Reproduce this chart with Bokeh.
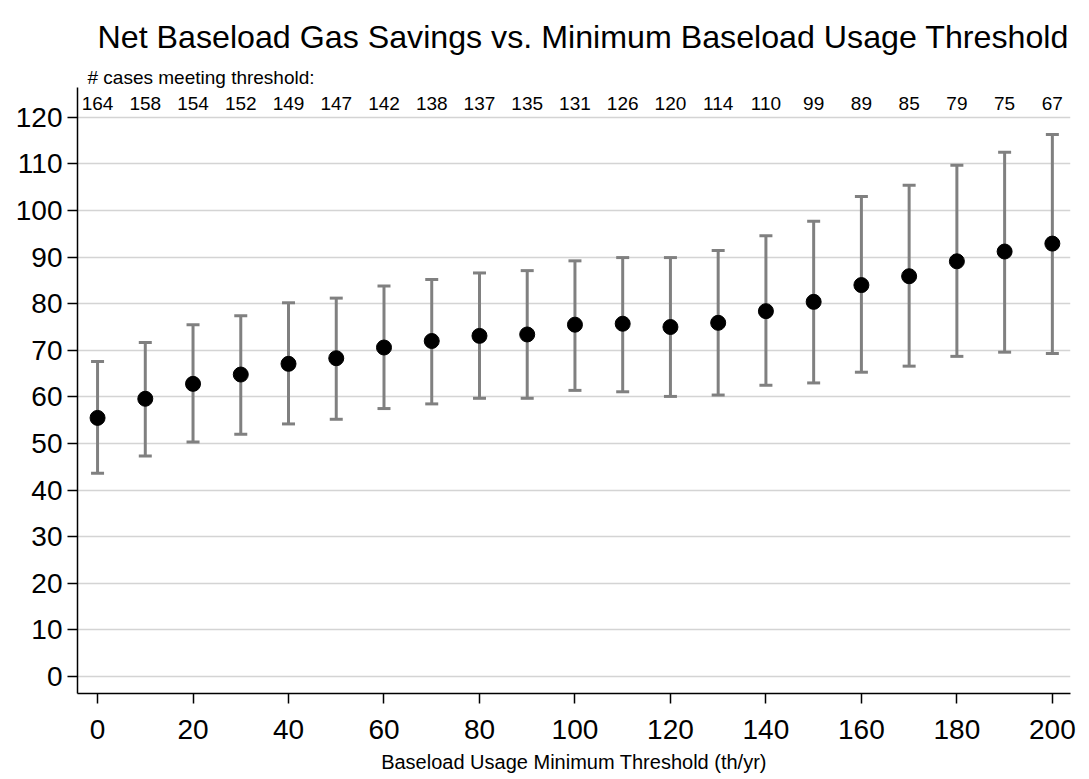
from bokeh.plotting import figure
from bokeh.models import ColumnDataSource, Whisker, TeeHead, Title, FixedTicker, Range1d
from bokeh.core.properties import value
from bokeh.embed import file_html
from bokeh.resources import INLINE

thresholds = [0, 10, 20, 30, 40, 50, 60, 70, 80, 90, 100, 110, 120, 130, 140, 150, 160, 170, 180, 190, 200]
mean_savings = [55.5, 59.6, 62.8, 64.8, 67.1, 68.3, 70.6, 72.0, 73.1, 73.4, 75.5, 75.7, 75.0, 75.9, 78.4, 80.4, 84.0, 85.9, 89.1, 91.2, 92.9]
upper_ci = [67.6, 71.7, 75.5, 77.4, 80.2, 81.2, 83.8, 85.2, 86.6, 87.1, 89.2, 89.9, 89.9, 91.4, 94.6, 97.7, 103.0, 105.4, 109.7, 112.5, 116.3]
lower_ci = [43.6, 47.3, 50.3, 52.0, 54.2, 55.2, 57.5, 58.5, 59.7, 59.7, 61.4, 61.1, 60.1, 60.4, 62.5, 63.0, 65.3, 66.6, 68.7, 69.6, 69.3]
case_counts = ["164", "158", "154", "152", "149", "147", "142", "138", "137", "135", "131", "126", "120", "114", "110", "99", "89", "85", "79", "75", "67"]
y_ticks = [0, 10, 20, 30, 40, 50, 60, 70, 80, 90, 100, 110, 120]
x_ticks = [0, 20, 40, 60, 80, 100, 120, 140, 160, 180, 200]

FONT = "Liberation Sans"

src = ColumnDataSource(dict(x=thresholds, y=mean_savings, up=upper_ci, lo=lower_ci,
                            n=case_counts, ny=[123.0] * len(thresholds)))

p = figure(width=1081, height=775, output_backend="svg", toolbar_location=None,
           x_range=Range1d(-4.2, 203.8), y_range=Range1d(-3.65, 126.4),
           min_border_left=77, min_border_right=11, min_border_top=87, min_border_bottom=78)
p.outline_line_color = None
p.background_fill_color = "white"

w = Whisker(base="x", upper="up", lower="lo", source=src, line_color="#808080", line_width=3,
            upper_head=TeeHead(size=13, line_color="#808080", line_width=3),
            lower_head=TeeHead(size=13, line_color="#808080", line_width=3))
p.add_layout(w)

p.scatter("x", "y", source=src, size=15, color="black")

p.text("x", "ny", text="n", source=src, text_align="center", text_baseline="middle",
       text_font=value(FONT), text_font_size="19px", text_color="black")

p.add_layout(Title(text="# cases meeting threshold:", align="left", offset=10,
                   text_font=FONT, text_font_size="19px", text_font_style="normal",
                   text_color="black", standoff=0), "above")
p.add_layout(Title(text="Net Baseload Gas Savings vs. Minimum Baseload Usage Threshold",
                   align="left", offset=20, text_font=FONT, text_font_size="32.2px",
                   text_font_style="normal", text_color="black", standoff=20), "above")

p.xaxis.ticker = FixedTicker(ticks=x_ticks)
p.yaxis.ticker = FixedTicker(ticks=y_ticks)
p.xaxis.axis_label = "Baseload Usage Minimum Threshold (th/yr)"
for ax in (p.xaxis, p.yaxis):
    ax.axis_line_color = "black"
    ax.axis_line_width = 1.5
    ax.major_tick_line_color = "black"
    ax.major_tick_line_width = 1.5
    ax.major_tick_in = 0
    ax.major_tick_out = 10
    ax.minor_tick_line_color = None
    ax.major_label_text_font = FONT
    ax.major_label_text_font_size = "28px"
    ax.major_label_text_color = "black"
p.xaxis.major_label_standoff = 16
p.yaxis.major_label_standoff = 5
p.xaxis.axis_label_text_font = FONT
p.xaxis.axis_label_text_font_size = "20px"
p.xaxis.axis_label_text_font_style = "normal"
p.xaxis.axis_label_text_color = "black"
p.xaxis.axis_label_standoff = 9

p.xgrid.grid_line_color = None
p.ygrid.grid_line_color = "#d4d4d4"
p.ygrid.grid_line_width = 1.5

open("out.html", "w").write(file_html(p, INLINE))
